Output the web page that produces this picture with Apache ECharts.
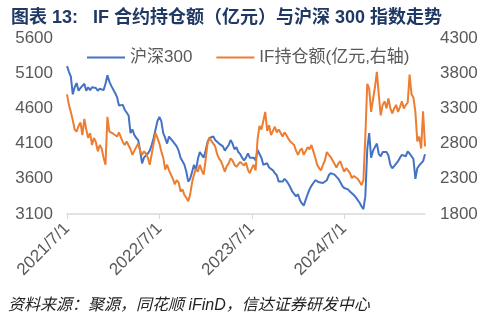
<!DOCTYPE html>
<html><head><meta charset="utf-8">
<script src="https://cdn.jsdelivr.net/npm/echarts@6/dist/echarts.min.js"></script>
<style>html,body{margin:0;padding:0;background:#fff}#c{width:486px;height:324px}</style>
</head><body><div id="c"></div>
<script>
// Sample days per month (approx. weekly points)
const sampleDays = [1, 8, 16, 23];
const startYear = 2021, startMonth = 7;
const monthCount = 47; // 2021/7 .. 2025/5
const lastMonthPoints = 3;

// 沪深300 (left axis)
const hs300 = [
  5200,5120,5050,4800, 4900,4960,4850,4890, 4920,4950,4850,4900, 4860,4900,4920,4890,
  4850,4880,4900,4860, 4950,5070,4980,4920, 4900,4820,4760,4640, 4620,4650,4580,4560,
  4500,4250,4300,4220, 4180,4150,4000,3820, 3900,3880,3960,4000, 4080,4180,4300,4420,
  4480,4420,4250,4180, 4100,4200,4180,4130, 4150,4060,4000,3900, 3850,3800,3700,3560,
  3600,3700,3800,3720, 3880,3980,3940,3900, 4000,4120,4180,4200, 4200,4150,4130,4100,
  4080,4060,4000,4020, 4080,4150,4100,4020, 4050,3980,3950,3900, 3860,3900,3960,3900,
  3880,3900,3860,4010, 4000,3900,3800,3780, 3820,3760,3740,3720, 3680,3650,3560,3570,
  3560,3600,3570,3530, 3480,3420,3400,3350, 3380,3300,3250,3220, 3200,3380,3450,3500,
  3540,3580,3570,3550, 3560,3540,3560,3580, 3650,3680,3700,3660, 3640,3600,3550,3500,
  3470,3480,3450,3420, 3400,3370,3340,3330, 3260,3210,3170,3350, 4020,4250,3900,4000,
  3980,4100,3950,3920, 3980,3990,3980,3930, 3800,3750,3780,3800, 3850,3900,3940,3950,
  3920,3990,3960,3920, 3880,3600,3750,3790, 3800,3850,3950
];

// IF持仓额 (亿元, right axis)
const ifOI = [
  3500,3350,3250,3130, 3000,2970,3050,3100, 2920,3150,3000,2880, 2950,2780,2880,2820,
  2690,2780,2730,2600, 2500,3180,2970,2950, 2940,2960,2900,2960, 2890,2820,2780,2830,
  2850,2720,2640,2700, 2750,2800,2700,2640, 2690,2660,2600,2500, 2650,2800,2950,2880,
  2800,2690,2600,2430, 2500,2420,2360,2300, 2220,2280,2250,2120, 2150,2070,2030,1980,
  2080,2250,2360,2440, 2400,2500,2420,2360, 2560,2800,2880,2900, 2800,2760,2650,2590,
  2550,2480,2400,2480, 2520,2590,2560,2500, 2470,2450,2540,2520, 2490,2530,2430,2380,
  2450,2500,2420,2860, 3050,3000,3120,3250, 2980,3060,2920,2980, 3040,2960,3000,2950,
  2900,2960,2920,2870, 2830,2850,2780,2700, 2640,2700,2730,2640, 2660,2750,2720,2780,
  2690,2600,2500,2450, 2420,2500,2560,2680, 2640,2610,2560,2540, 2460,2520,2550,2470,
  2400,2450,2420,2380, 2310,2340,2350,2300, 2260,2210,2280,2900, 3650,3580,3250,3430,
  3600,3820,3490,3200, 3350,3400,3300,3440, 3300,3230,3300,3350, 3250,3320,3400,3300,
  3350,3380,3780,3500, 3450,3250,2830,2900, 2730,3260,2760
];

const tickLabels = ['2021/7/1', '2022/7/1', '2023/7/1', '2024/7/1'];
const leftTicks = { min: 3100, max: 5600, interval: 500 };
const rightTicks = { min: 1800, max: 4300, interval: 500 };

const categories = [];
for (let m = 0; m < monthCount; m++) {
  const y = startYear + Math.floor((startMonth - 1 + m) / 12);
  const mo = ((startMonth - 1 + m) % 12) + 1;
  const n = (m === monthCount - 1) ? lastMonthPoints : sampleDays.length;
  for (let k = 0; k < n; k++) categories.push(y + '/' + mo + '/' + sampleDays[k]);
}
const showTick = (i, v) => tickLabels.indexOf(v) >= 0;
const FONT = 'Liberation Sans, Noto Sans CJK SC, sans-serif';

const chart = echarts.init(document.getElementById('c'), null, { renderer: 'canvas' });
chart.setOption({
  animation: false,
  backgroundColor: '#fff',
  title: {
    text: '图表 13:   IF 合约持仓额（亿元）与沪深 300 指数走势',
    left: 6, top: 4,
    textStyle: { fontSize: 18, fontWeight: 'bold', color: '#1F3864', fontFamily: FONT }
  },
  graphic: [{
    type: 'text', left: 8, top: 298,
    style: { text: '资料来源：聚源，同花顺 iFinD，信达证券研发中心', fontSize: 16, fontStyle: 'italic', fill: '#222', fontFamily: FONT }
  }],
  legend: {
    left: 82, top: 44, itemWidth: 38, itemHeight: 2, itemGap: 24, icon: 'rect',
    textStyle: { fontSize: 17, color: '#595959', fontFamily: FONT },
    data: ['沪深300', 'IF持仓额(亿元,右轴)']
  },
  grid: { left: 67, right: 61, top: 38, bottom: 110, containLabel: false },
  xAxis: {
    type: 'category', data: categories, boundaryGap: false,
    axisLine: { lineStyle: { color: '#d9d9d9', width: 1.5 } },
    axisTick: { interval: showTick, length: 5, lineStyle: { color: '#d9d9d9' } },
    axisLabel: { interval: showTick, rotate: 45, fontSize: 17, color: '#595959', margin: 12, fontFamily: FONT },
    splitLine: { show: false }
  },
  yAxis: [{
    type: 'value', min: leftTicks.min, max: leftTicks.max, interval: leftTicks.interval,
    axisLine: { show: false }, axisTick: { show: false }, splitLine: { show: false },
    axisLabel: { fontSize: 17, color: '#595959', margin: 14, fontFamily: FONT, formatter: v => String(v) }
  }, {
    type: 'value', min: rightTicks.min, max: rightTicks.max, interval: rightTicks.interval,
    axisLine: { show: false }, axisTick: { show: false }, splitLine: { show: false },
    axisLabel: { fontSize: 17, color: '#595959', margin: 15, fontFamily: FONT, formatter: v => String(v) }
  }],
  series: [{
    name: '沪深300', type: 'line', data: hs300, yAxisIndex: 0,
    showSymbol: false, symbol: 'none', lineStyle: { color: '#4472C4', width: 2 }, itemStyle: { color: '#4472C4' }
  }, {
    name: 'IF持仓额(亿元,右轴)', type: 'line', data: ifOI, yAxisIndex: 1,
    showSymbol: false, symbol: 'none', lineStyle: { color: '#ED7D31', width: 2 }, itemStyle: { color: '#ED7D31' }
  }]
});
</script></body></html>
